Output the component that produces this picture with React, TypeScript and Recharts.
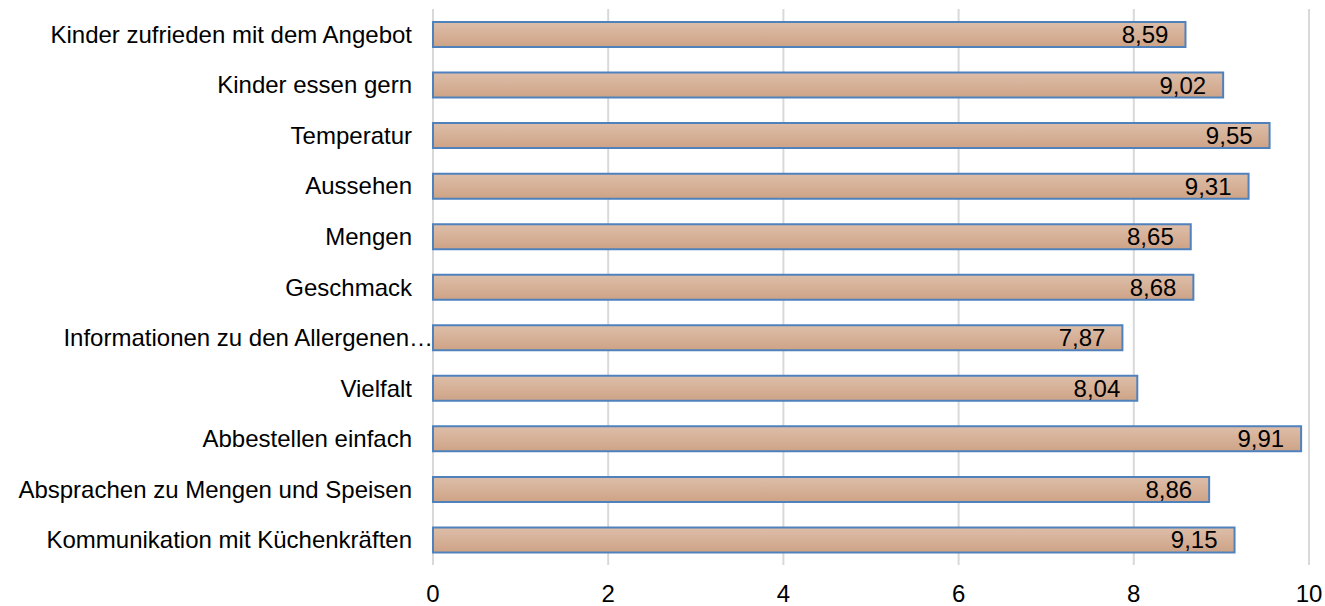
import { Bar, BarChart, CartesianGrid, LabelList, XAxis, YAxis } from "recharts";

const categories = [
  "Kinder zufrieden mit dem Angebot",
  "Kinder essen gern",
  "Temperatur",
  "Aussehen",
  "Mengen",
  "Geschmack",
  "Informationen zu den Allergenen…",
  "Vielfalt",
  "Abbestellen einfach",
  "Absprachen zu Mengen und Speisen",
  "Kommunikation mit Küchenkräften",
];

const scores = [8.59, 9.02, 9.55, 9.31, 8.65, 8.68, 7.87, 8.04, 9.91, 8.86, 9.15];

const xTicks = [0, 2, 4, 6, 8, 10];

const data = categories.map((name, i) => ({ name, value: scores[i] }));

const FONT = "'Liberation Sans', Arial, sans-serif";
const FONT_SIZE = 24;

const formatValue = (v: number) => v.toFixed(2).replace(".", ",");

function CategoryTick(props: any) {
  const { x, y, payload } = props;
  const label: string = payload.value;
  // the truncated label in the original runs right up to the axis
  const shift = label.endsWith("…") ? 21 : 0;
  return (
    <text
      x={x + shift}
      y={y}
      dy="0.355em"
      textAnchor="end"
      fill="#000"
      fontSize={FONT_SIZE}
      fontFamily={FONT}
    >
      {label}
    </text>
  );
}

export default function App() {
  return (
    <div style={{ position: "absolute", left: 0, top: 0, width: 1325, height: 606, background: "#fff" }}>
      <BarChart
        width={1325}
        height={606}
        data={data}
        layout="vertical"
        margin={{ top: 9, right: 16, bottom: 0, left: 0 }}
      >
        <defs>
          <linearGradient id="barFill" x1="0" y1="0" x2="0" y2="1">
            <stop offset="0%" stopColor="#ddbea9" />
            <stop offset="100%" stopColor="#cea386" />
          </linearGradient>
        </defs>
        <CartesianGrid horizontal={false} stroke="#d9d9d9" strokeWidth={2} />
        <XAxis
          type="number"
          domain={[0, 10]}
          ticks={xTicks}
          axisLine={false}
          tickLine={false}
          tickSize={0}
          tickMargin={20}
          height={41}
          tick={{ fill: "#000", fontSize: FONT_SIZE, fontFamily: FONT }}
        />
        <YAxis
          type="category"
          dataKey="name"
          width={433}
          axisLine={false}
          tickLine={false}
          tickSize={0}
          tickMargin={21}
          interval={0}
          tick={<CategoryTick />}
        />
        <Bar
          dataKey="value"
          fill="url(#barFill)"
          stroke="#4f81bd"
          strokeWidth={2}
          barSize={25}
          isAnimationActive={false}
        >
          <LabelList
            dataKey="value"
            position="insideRight"
            offset={17}
            formatter={(v: any) => formatValue(Number(v))}
            fill="#000"
            fontSize={FONT_SIZE}
            fontFamily={FONT}
          />
        </Bar>
      </BarChart>
    </div>
  );
}
